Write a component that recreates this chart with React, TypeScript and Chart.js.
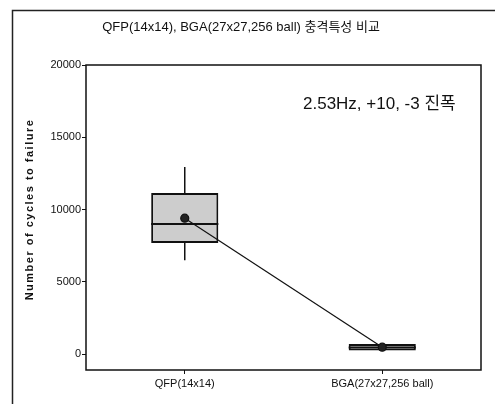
import React, { useEffect, useRef } from "react";
import { Chart, registerables } from "chart.js";

Chart.register(...registerables);

const categories = ["QFP(14x14)", "BGA(27x27,256 ball)"];
const q1Values = [7680, 250];
const q3Values = [11150, 700];
const medianValues = [9000, 450];
const minValues = [6500, 250];
const maxValues = [12950, 700];
const meanValues = [9400, 480];
const yTicks = [0, 5000, 10000, 15000, 20000];
const yMin = -1100;
const yMax = 20000;
const chartTitle = "QFP(14x14), BGA(27x27,256 ball) 충격특성 비교";
const annotation = "2.53Hz, +10, -3 진폭";
const yTitle = "Number of cycles to failure";

const FONT = "'Liberation Sans', Arial, 'Noto Sans CJK KR', sans-serif";

const boxPlugin = {
  id: "boxExtras",
  beforeDraw(chart: any) {
    const ctx = chart.ctx;
    ctx.save();
    ctx.fillStyle = "#fff";
    ctx.fillRect(0, 0, chart.width, chart.height);
    // outer frame
    ctx.strokeStyle = "#222";
    ctx.lineWidth = 1.5;
    ctx.beginPath();
    ctx.moveTo(12.5, chart.height);
    ctx.lineTo(12.5, 10.5);
    ctx.lineTo(chart.width, 10.5);
    ctx.stroke();
    // title
    ctx.fillStyle = "#111";
    ctx.font = `13px ${FONT}`;
    ctx.textAlign = "center";
    ctx.textBaseline = "middle";
    ctx.fillText(chartTitle, 241, 27);
    ctx.restore();
  },
  afterDatasetDraw(chart: any, args: any) {
    if (args.index !== 1) return;
    const ctx = chart.ctx;
    const y = chart.scales.y;
    const meta = chart.getDatasetMeta(1);
    ctx.save();
    ctx.strokeStyle = "#111";
    meta.data.forEach((bar: any, i: number) => {
      const x = bar.x;
      const half = bar.width / 2;
      ctx.lineWidth = 1.5;
      ctx.beginPath();
      ctx.moveTo(x, y.getPixelForValue(q3Values[i]));
      ctx.lineTo(x, y.getPixelForValue(maxValues[i]));
      ctx.moveTo(x, y.getPixelForValue(q1Values[i]));
      ctx.lineTo(x, y.getPixelForValue(minValues[i]));
      ctx.stroke();
      ctx.lineWidth = 2;
      ctx.beginPath();
      const my = y.getPixelForValue(medianValues[i]);
      ctx.moveTo(x - half, my);
      ctx.lineTo(x + half, my);
      ctx.stroke();
    });
    ctx.restore();
  },
  afterDraw(chart: any) {
    const ctx = chart.ctx;
    const a = chart.chartArea;
    ctx.save();
    ctx.strokeStyle = "#111";
    ctx.lineWidth = 1.5;
    ctx.strokeRect(a.left, a.top, a.right - a.left, a.bottom - a.top);
    ctx.fillStyle = "#111";
    ctx.font = `17px ${FONT}`;
    ctx.textAlign = "left";
    ctx.textBaseline = "middle";
    ctx.fillText(annotation, a.left + 217, a.top + 39);
    // y title
    ctx.translate(30, (a.top + a.bottom) / 2 - 8);
    ctx.rotate(-Math.PI / 2);
    ctx.font = `bold 11px ${FONT}`;
    (ctx as any).letterSpacing = "1.5px";
    ctx.textAlign = "center";
    ctx.fillText(yTitle, 0, 0);
    ctx.restore();
  },
};

export default function App() {
  const ref = useRef<HTMLCanvasElement>(null);
  useEffect(() => {
    if (!ref.current) return;
    const chart = new Chart(ref.current, {
      type: "bar",
      data: {
        labels: categories,
        datasets: [
          {
            type: "line",
            label: "mean",
            data: meanValues,
            borderColor: "#111",
            borderWidth: 1.2,
            pointRadius: 4,
            pointBackgroundColor: "#222",
            pointBorderColor: "#111",
            order: 0,
          } as any,
          {
            type: "bar",
            label: "box",
            data: q1Values.map((v, i) => [v, q3Values[i]]),
            backgroundColor: "#cdcdcd",
            borderColor: "#111",
            borderWidth: 2,
            borderSkipped: false,
            barPercentage: 0.34,
            categoryPercentage: 1,
            order: 1,
          } as any,
        ],
      },
      plugins: [boxPlugin],
      options: {
        responsive: false,
        animation: false,
        layout: { padding: { left: 20, right: 14, top: 65, bottom: 0 } },
        plugins: { legend: { display: false }, tooltip: { enabled: false }, title: { display: false } },
        scales: {
          x: {
            offset: true,
            grid: { display: true, drawOnChartArea: false, offset: false, tickLength: 4, color: "#111", tickWidth: 1 },
            border: { display: false },
            ticks: { color: "#111", font: { size: 11, family: FONT }, padding: 3, maxRotation: 0 },
            afterFit: (s: any) => { s.height = 34; },
          },
          y: {
            min: yMin,
            max: yMax,
            grid: { display: true, drawOnChartArea: false, tickLength: 4, color: "#111", tickWidth: 1 },
            border: { display: false },
            ticks: {
              color: "#111",
              font: { size: 11, family: FONT },
              padding: 1,
              callback: (v: any) => String(v),
            },
            afterBuildTicks: (s: any) => { s.ticks = yTicks.map((v) => ({ value: v })); },
            afterFit: (s: any) => { s.width = 66; },
          },
        },
      },
    });
    return () => chart.destroy();
  }, []);
  return (
    <div style={{ position: "fixed", left: 0, top: 0, width: 495, height: 404, background: "#fff" }}>
      <canvas ref={ref} width={495} height={404} />
    </div>
  );
}
